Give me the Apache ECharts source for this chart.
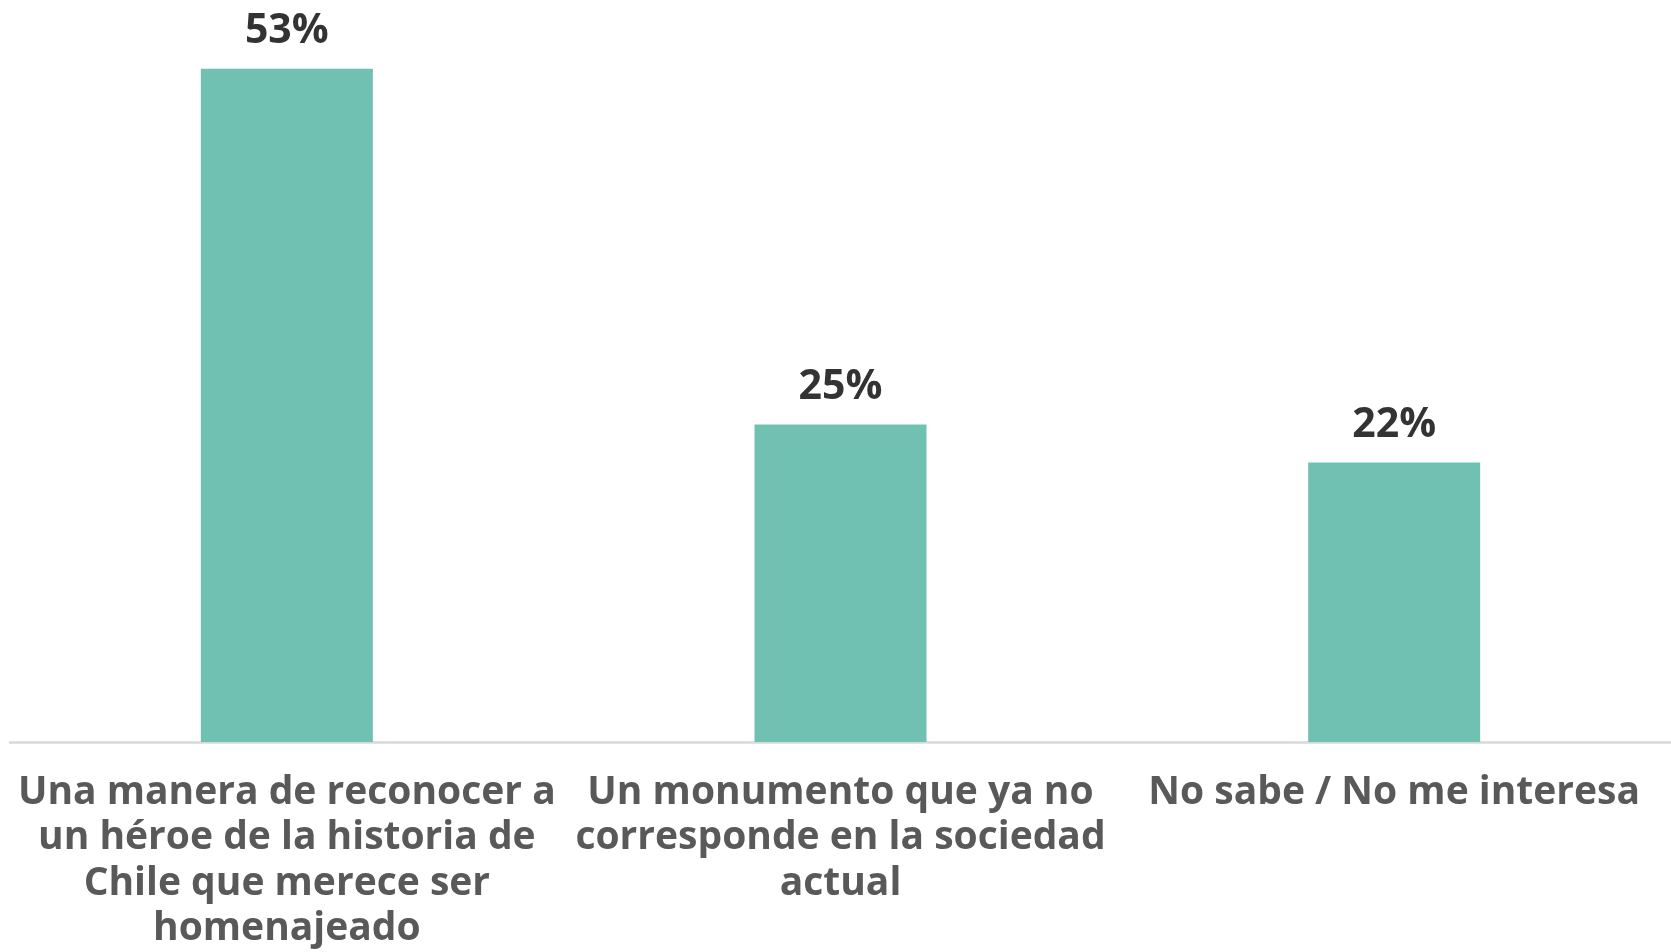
<!DOCTYPE html>
<html>
<head>
<meta charset="utf-8">
<script src="https://cdn.jsdelivr.net/npm/echarts@6/dist/echarts.min.js"></script>
<style>
html,body{margin:0;padding:0;background:#fff;}
#chart{width:1671px;height:952px;}
</style>
</head>
<body>
<div id="chart"></div>
<script>
const categories = [
  "Una manera de reconocer a\nun héroe de la historia de\nChile que merece ser\nhomenajeado",
  "Un monumento que ya no\ncorresponde en la sociedad\nactual",
  "No sabe / No me interesa"
];
const values = [53, 25, 22];

const chart = echarts.init(document.getElementById('chart'));
chart.setOption({
  backgroundColor: '#ffffff',
  animation: false,
  grid: { left: 10, width: 1676, top: 43.4, bottom: 206, containLabel: false },
  xAxis: {
    type: 'category',
    data: categories,
    axisLine: { show: true, lineStyle: { color: '#d9d9d9', width: 2.5 } },
    axisTick: { show: false },
    axisLabel: {
      interval: 0,
      margin: 28,
      color: '#595959',
      fontFamily: 'Open Sans',
      fontWeight: 'bold',
      fontSize: 39,
      lineHeight: 45.5,
      align: 'center'
    }
  },
  yAxis: {
    type: 'value',
    min: 0,
    max: 55,
    show: false,
    splitLine: { show: false }
  },
  series: [{
    type: 'bar',
    data: values,
    barWidth: 172,
    itemStyle: { color: '#71c1b3' },
    label: {
      show: true,
      position: 'top',
      distance: 17,
      formatter: '{c}%',
      color: '#333333',
      fontFamily: 'Open Sans',
      fontWeight: 'bold',
      fontSize: 41
    }
  }]
});
</script>
</body>
</html>
